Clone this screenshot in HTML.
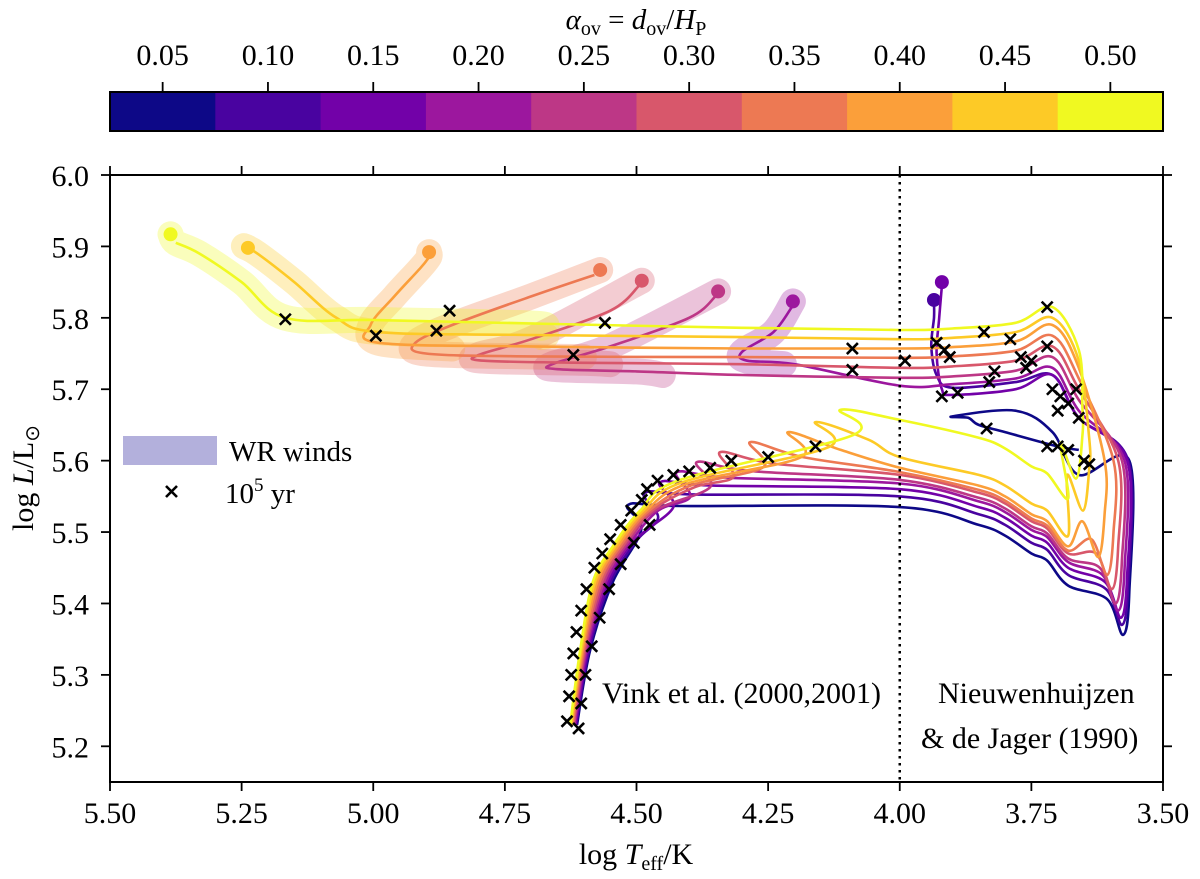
<!DOCTYPE html>
<html><head><meta charset="utf-8">
<style>
html,body{margin:0;padding:0;background:#fff;}
svg, svg text{font-family:"Liberation Serif","Times New Roman","DejaVu Serif",serif;}
</style></head>
<body>
<svg id="c" width="1200" height="879" viewBox="0 0 1200 879" xmlns="http://www.w3.org/2000/svg" style="display:block;font-family:'Liberation Serif','Times New Roman',serif">
</svg>
<script>
// ---- data ----
const alphaLabels = ["0.05","0.10","0.15","0.20","0.25","0.30","0.35","0.40","0.45","0.50"];
const colors = ["#0d0887","#4903a0","#7201a8","#9c179e","#bd3786","#d8576b","#ed7953","#fb9f3a","#fdca26","#f0f921"];
const xTicks = [5.50,5.25,5.00,4.75,4.50,4.25,4.00,3.75,3.50];
const yTicks = [5.2,5.3,5.4,5.5,5.6,5.7,5.8,5.9,6.0];
const peakT = [4.516,4.484,4.455,4.423,4.385,4.341,4.284,4.212,4.16,4.113];
const peakL = [5.538,5.555,5.57,5.584,5.598,5.612,5.626,5.64,5.654,5.671];
const msL40 = [5.535,5.55,5.56,5.568,5.573,5.58,5.584,5.59,5.605,5.657];
const tMin = [3.576,3.578,3.58,3.585,3.59,3.597,3.606,3.623,3.652,3.665];
const lMin = [5.356,5.37,5.38,5.39,5.40,5.42,5.44,5.465,5.53,5.575];
const lLoop = [5.66,5.70,5.69,5.705,5.716,5.73,5.744,5.757,5.77,5.783];
const topL = [5.64,5.72,5.72,5.73,5.745,5.76,5.775,5.79,5.80,5.815];
const tail0 = [[3.87,5.66],[3.85,5.65],[3.80,5.64],[3.70,5.62],[3.66,5.615]];
const tail1 = [[3.93,5.72],[3.94,5.76],[3.935,5.80],[3.935,5.82]];
const tail2 = [[3.92,5.70],[3.93,5.75],[3.925,5.80],[3.92,5.845]];
const tail3 = [[4.2,5.735],[4.29,5.74],[4.30,5.752],[4.24,5.78],[4.205,5.815]];
const tail4 = [[4.3,5.72],[4.5,5.725],[4.65,5.728],[4.66,5.735],[4.55,5.76],[4.40,5.80],[4.35,5.83]];
const tail5 = [[4.3,5.735],[4.6,5.737],[4.79,5.74],[4.80,5.748],[4.70,5.77],[4.55,5.81],[4.495,5.845]];
const tail6 = [[4.3,5.745],[4.7,5.746],[4.9,5.75],[4.92,5.765],[4.85,5.79],[4.70,5.83],[4.58,5.86]];
const tail7 = [[4.3,5.757],[4.7,5.76],[4.99,5.765],[5.005,5.79],[4.96,5.83],[4.91,5.87],[4.894,5.885]];
const tail8 = [[4.3,5.773],[4.7,5.776],[4.99,5.78],[5.07,5.80],[5.15,5.85],[5.22,5.89],[5.245,5.90]];
const tail9 = [[4.3,5.786],[4.7,5.792],[5.0,5.797],[5.167,5.80],[5.25,5.85],[5.33,5.89],[5.375,5.905]];
const tails = [tail0,tail1,tail2,tail3,tail4,tail5,tail6,tail7,tail8,tail9];
const endDots = [null,[3.935,5.825],[3.92,5.85],[4.203,5.823],[4.345,5.837],[4.49,5.852],[4.569,5.867],[4.894,5.892],[5.238,5.898],[5.385,5.917]];
const wrStart = [99,99,99,4.22,4.45,4.55,4.60,4.85,4.68,4.68];
const crosses = [[5.167,5.798],[4.995,5.775],[4.88,5.782],[4.855,5.81],[4.56,5.793],[4.62,5.748],[4.09,5.757],[4.09,5.727],[3.99,5.74],[3.93,5.765],[3.915,5.755],[3.905,5.745],[3.92,5.69],[3.89,5.695],[3.84,5.78],[3.79,5.77],[3.77,5.745],[3.82,5.725],[3.83,5.71],[3.76,5.73],[3.72,5.815],[3.71,5.70],[3.70,5.67],[3.695,5.69],[3.68,5.68],[3.665,5.70],[3.66,5.66],[3.835,5.645],[3.72,5.62],[3.70,5.62],[3.68,5.615],[3.65,5.60],[3.64,5.595],[3.75,5.74],[3.72,5.76],
 [4.16,5.62],[4.25,5.605],[4.32,5.60],[4.36,5.59],[4.40,5.585],[4.43,5.58],[4.46,5.572],[4.48,5.56],
 [4.632,5.235],[4.628,5.27],[4.624,5.30],[4.62,5.33],[4.614,5.36],[4.605,5.39],[4.595,5.42],[4.58,5.45],[4.565,5.47],[4.55,5.49],[4.53,5.51],[4.51,5.53],[4.49,5.545],
 [4.61,5.225],[4.605,5.26],[4.597,5.30],[4.585,5.34],[4.57,5.38],[4.552,5.42],[4.53,5.455],[4.505,5.485],[4.475,5.51]];

// ---- scales ----
const X0=110,X1=1163,Y0=175,Y1=782;
const X = t => X0 + (5.5 - t) * (X1 - X0) / 2.0;
const Y = l => Y0 + (6.0 - l) * (Y1 - Y0) / 0.85;
const NS="http://www.w3.org/2000/svg";
const FONT="'Liberation Serif','Times New Roman',serif";
const svg=document.getElementById('c');
function mk(tag, attrs, parent){const e=document.createElementNS(NS,tag);for(const k in attrs)e.setAttribute(k,attrs[k]);if(tag==='text')e.setAttribute('style','font-family:'+FONT);(parent||svg).appendChild(e);return e;}
function smooth(pts){
  const p=pts.map(a=>[X(a[0]),Y(a[1])]);
  let d="M"+p[0][0].toFixed(1)+","+p[0][1].toFixed(1);
  for(let i=0;i<p.length-1;i++){
    const p0=p[i-1]||p[i],p1=p[i],p2=p[i+1],p3=p[i+2]||p2;
    const c1=[p1[0]+(p2[0]-p0[0])/6,p1[1]+(p2[1]-p0[1])/6];
    const c2=[p2[0]-(p3[0]-p1[0])/6,p2[1]-(p3[1]-p1[1])/6];
    d+=" C"+c1[0].toFixed(1)+","+c1[1].toFixed(1)+" "+c2[0].toFixed(1)+","+c2[1].toFixed(1)+" "+p2[0].toFixed(1)+","+p2[1].toFixed(1);
  }
  return d;
}
function buildTrack(i){
  const f=i/9, pts=[];
  const P=[peakT[i]-0.025,peakL[i]-0.035];
  pts.push([4.613+0.013*f,5.23]);
  pts.push([4.588+0.019*f,5.335]);
  pts.push([4.545+0.038*f,5.43]);
  const p4=[4.493+0.052*f,5.49-0.01*f], p5=[4.442+0.051*f,5.53], p6=[4.355+0.062*f,5.55+0.023*f];
  [p4,p5,p6].forEach(p=>{ if(p[0]>P[0]+0.03) pts.push(p); });
  pts.push(P,[peakT[i],peakL[i]]);
  if(peakT[i]-0.1>4.05) pts.push([peakT[i]-0.1,(peakL[i]+msL40[i])/2]);
  const m=msL40[i];
  pts.push([4.0,m],[3.85,m-0.025],[3.80,m-0.04],[3.75,m-0.065],[3.72,m-0.075],[3.68,m-0.11]);
  pts.push([tMin[i]+0.03,lMin[i]+0.05],[tMin[i],lMin[i]],[tMin[i]-0.012,lMin[i]+0.06],[tMin[i]-0.012,Math.max(5.60,lMin[i]+0.1)]);
  pts.push([3.66,topL[i]-0.06],[3.71,topL[i]],[3.78,lLoop[i]+0.01],[3.9,lLoop[i]+0.002]);
  const t=tails[i];
  if(t[0][0]>4.0) pts.push([4.0,lLoop[i]]);
  return pts.concat(t);
}

// ---- colorbar ----
const cb=mk('g',{});


const cw=(X1-X0)/colors.length;
colors.forEach((c,i)=>{
  const r=mk('rect',{x:X0+i*cw,y:92,width:cw+0.5,height:39,fill:c},cb);
  
  
  mk('line',{x1:X0+(i+0.5)*cw,x2:X0+(i+0.5)*cw,y1:92,y2:82,stroke:'#000','stroke-width':1.8},cb);
  const tx=mk('text',{x:X0+(i+0.5)*cw,y:65,'font-size':30,'text-anchor':'middle'},cb);
  tx.textContent=alphaLabels[i];
  
  
});
mk('rect',{x:X0,y:92,width:X1-X0,height:39,fill:'none',stroke:'#000','stroke-width':2},cb);
const cbt=mk('text',{x:636,y:29,'font-size':29,'text-anchor':'middle'});


cbt.innerHTML='<tspan font-style="italic">α</tspan><tspan font-size="20" dy="6">ov</tspan><tspan dy="-6"> = </tspan><tspan font-style="italic">d</tspan><tspan font-size="20" dy="6">ov</tspan><tspan dy="-6">/</tspan><tspan font-style="italic">H</tspan><tspan font-size="20" dy="6">P</tspan>';

// ---- WR bands ----
const wrG=mk('g',{});


tails.forEach((t,i)=>{
  if(wrStart[i]>10) return;
  const pts=[[wrStart[i],t[0][1]]].concat(t.filter(p=>p[0]>wrStart[i]));
  if(endDots[i]) pts.push(endDots[i]);
  const b=mk('path',{d:smooth(pts),fill:'none',stroke:colors[i],'stroke-opacity':0.3,'stroke-width':26,'stroke-linecap':'round','stroke-linejoin':'round'},wrG);
  
  
});

// ---- tracks ----
const trG=mk('g',{});


for(let i=0;i<colors.length;i++){
  const p=mk('path',{d:smooth(buildTrack(i)),fill:'none',stroke:colors[i],'stroke-width':2.6,'stroke-linejoin':'round'},trG);
  
  
  if(endDots[i]){
    const d=mk('circle',{cx:X(endDots[i][0]),cy:Y(endDots[i][1]),r:7,fill:colors[i]},trG);
    
    
  }
}
// ---- crosses ----
const crG=mk('g',{stroke:'#000','stroke-width':2.6});


crosses.forEach(c=>{
  const x=X(c[0]),y=Y(c[1]),s=5.5;
  const pth=mk('path',{d:`M${x-s},${y-s}L${x+s},${y+s}M${x-s},${y+s}L${x+s},${y-s}`},crG);
  
  
});

// ---- divider ----
const dv=mk('line',{x1:X(4.0),x2:X(4.0),y1:Y0,y2:Y1,stroke:'#000','stroke-width':2.5,'stroke-dasharray':'2.5,4.5'});



// ---- axes ----
const ax=mk('g',{});


mk('rect',{x:X0,y:Y0,width:X1-X0,height:Y1-Y0,fill:'none',stroke:'#000','stroke-width':2},ax);
xTicks.forEach(t=>{
  const x=X(t);
  mk('line',{x1:x,x2:x,y1:Y1,y2:Y1+9,stroke:'#000','stroke-width':1.8},ax);
  mk('line',{x1:x,x2:x,y1:Y0,y2:Y0-9,stroke:'#000','stroke-width':1.8},ax);
  const tx=mk('text',{x:x,y:823,'font-size':30,'text-anchor':'middle'},ax);
  tx.textContent=t.toFixed(2);
  
  
});
yTicks.forEach(l=>{
  const y=Y(l);
  mk('line',{x1:X0,x2:X0-9,y1:y,y2:y,stroke:'#000','stroke-width':1.8},ax);
  mk('line',{x1:X1,x2:X1+9,y1:y,y2:y,stroke:'#000','stroke-width':1.8},ax);
  const tx=mk('text',{x:89,y:y+11,'font-size':30,'text-anchor':'end'},ax);
  tx.textContent=l.toFixed(1);
  
  
});
</script>
<svg width="1200" height="879" style="position:absolute;left:0;top:0;font-family:'Liberation Serif','Times New Roman',serif" xmlns="http://www.w3.org/2000/svg">
  <text x="636" y="864" font-size="30" text-anchor="middle" style="font-family:'Liberation Serif',serif">log <tspan font-style="italic">T</tspan><tspan font-size="20" dy="6">eff</tspan><tspan dy="-6">/K</tspan></text>
  <text transform="translate(33,478) rotate(-90)" font-size="30" text-anchor="middle" style="font-family:'Liberation Serif',serif">log <tspan font-style="italic">L</tspan>/L<tspan font-size="20" dy="6">⊙</tspan></text>
  <g>
    <rect x="123" y="436" width="94" height="29" fill="#b3b0dc"/>
    <text x="229" y="461" font-size="29" style="font-family:'Liberation Serif',serif">WR winds</text>
    <path d="M166,486L177,497M166,497L177,486" stroke="#000" stroke-width="2.6"/>
    <text x="225" y="503" font-size="29" style="font-family:'Liberation Serif',serif">10<tspan font-size="19" dy="-12">5</tspan><tspan dy="12"> yr</tspan></text>
  </g>
  <text x="602" y="703" font-size="30" style="font-family:'Liberation Serif',serif">Vink et al. (2000,2001)</text>
  <text x="938" y="703" font-size="30" style="font-family:'Liberation Serif',serif">Nieuwenhuijzen</text>
  <text x="921" y="748" font-size="30" style="font-family:'Liberation Serif',serif">&amp; de Jager (1990)</text>
</svg>
</body></html>
